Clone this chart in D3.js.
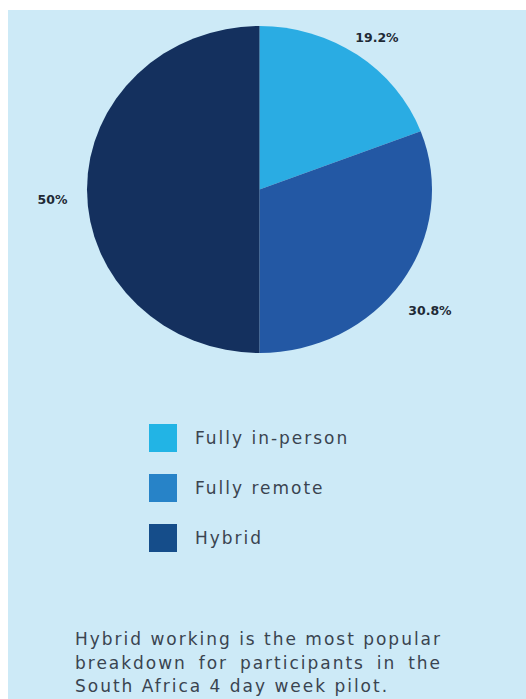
<!DOCTYPE html>
<html>
<head>
<meta charset="utf-8">
<script src="https://cdn.jsdelivr.net/npm/d3@7"></script>
<style>
  body { margin: 0; background: #ffffff; }
  svg { display: block; }
</style>
</head>
<body>
<div id="chart"></div>
<script>
// data
const categories = ["Fully in-person", "Fully remote", "Hybrid"];
const shares = [19.2, 30.8, 50];
const valueLabels = ["19.2%", "30.8%", "50%"];
const captionLines = [
    "Hybrid working is the most popular",
    "breakdown for participants in the",
    "South Africa 4 day week pilot."
];

function drawChart() {
    const W = 526, H = 699;
    const sliceColors = ["#2aace3", "#2358a4", "#14305e"];
    const legendColors = ["#22b4e5", "#2783c8", "#154d8a"];
    const textFont = "DejaVu Sans", textSize = 17;

    let svg = d3.select("#chart").append("svg")
        .attr("width", W)
        .attr("height", H);

    // panel background
    svg.append("rect")
        .attr("x", 8).attr("y", 10)
        .attr("width", W - 8).attr("height", H - 10)
        .attr("fill", "#cdeaf7");

    // pie (slightly stretched horizontally, like the original)
    const cx = 259.5, cy = 189.5, R = 163.5, sx = 172.5 / 163.5;
    let pieGroup = svg.append("g")
        .attr("transform", `translate(${cx},${cy}) scale(${sx},1)`);

    let pie = d3.pie().sort(null).value(d => d);
    let arcs = pie(shares);
    let arc = d3.arc().innerRadius(0).outerRadius(R);
    let labelArc = d3.arc().innerRadius(R * 1.2).outerRadius(R * 1.2);

    pieGroup.selectAll("path")
        .data(arcs)
        .enter().append("path")
        .attr("d", arc)
        .attr("fill", (d, i) => sliceColors[i]);

    // value labels outside the slices
    svg.append("g")
        .selectAll("text")
        .data(arcs)
        .enter().append("text")
        .attr("x", d => cx + labelArc.centroid(d)[0] * sx)
        .attr("y", d => cy + labelArc.centroid(d)[1] + 11)
        .attr("text-anchor", "middle")
        .attr("dominant-baseline", "middle")
        .attr("font-family", "DejaVu Sans")
        .attr("font-weight", "bold")
        .attr("font-size", 12.5)
        .attr("fill", "#1f2a36")
        .text((d, i) => valueLabels[i]);

    // caption column: squeeze the glyphs a little so the first line fills it
    const left = 75, right = 442, top = 645, lineH = 23.5;
    let probe = svg.append("text")
        .attr("font-family", textFont).attr("font-size", textSize)
        .text(captionLines[0]);
    let spacing = (right - left - probe.node().getComputedTextLength()) / captionLines[0].length;
    probe.remove();

    // legend
    let legend = svg.append("g").attr("transform", "translate(149, 424)");
    let rows = legend.selectAll("g")
        .data(categories)
        .enter().append("g")
        .attr("transform", (d, i) => `translate(0, ${i * 50})`);
    rows.append("rect")
        .attr("width", 28).attr("height", 28)
        .attr("fill", (d, i) => legendColors[i]);
    rows.append("text")
        .attr("x", 46).attr("y", 15)
        .attr("dominant-baseline", "middle")
        .attr("font-family", textFont)
        .attr("font-size", textSize)
        .attr("letter-spacing", spacing)
        .attr("fill", "#3a4450")
        .text(d => d);

    // caption, justified except last line
    let cap = svg.append("g")
        .attr("font-family", textFont)
        .attr("font-size", textSize)
        .attr("letter-spacing", spacing)
        .attr("fill", "#3a4450");
    let spaceW = textSize * 0.318 + spacing;
    captionLines.forEach(function(line, li) {
        let words = line.split(" ");
        let texts = words.map(w => cap.append("text")
            .attr("y", top + li * lineH)
            .text(w));
        let widths = texts.map(t => t.node().getComputedTextLength());
        let total = d3.sum(widths);
        let space = (li < captionLines.length - 1)
            ? (right - left - total) / (words.length - 1)
            : spaceW;
        let x = left;
        texts.forEach(function(t, i) {
            t.attr("x", x);
            x += widths[i] + space;
        });
    });
}
drawChart();
</script>
</body>
</html>
